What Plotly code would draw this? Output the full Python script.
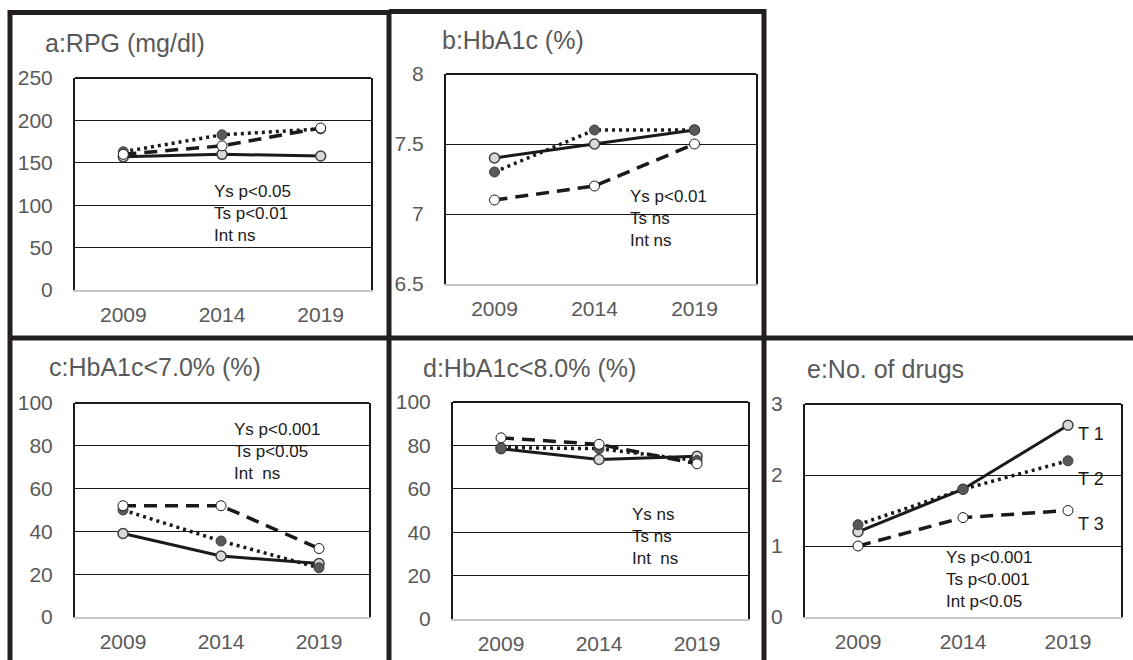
import plotly.graph_objects as go

W, H = 1133, 660

years = ["2009", "2014", "2019"]

# panel a: RPG (mg/dl)
rpg_t1 = [157, 160, 158]
rpg_t2 = [163, 183, 190]
rpg_t3 = [160, 170, 191]
# panel b: HbA1c (%)
hba_t1 = [7.4, 7.5, 7.6]
hba_t2 = [7.3, 7.6, 7.6]
hba_t3 = [7.1, 7.2, 7.5]
# panel c: HbA1c<7.0% (%)
lt7_t1 = [39, 28.5, 25]
lt7_t2 = [50, 35.5, 23]
lt7_t3 = [52, 52, 32]
# panel d: HbA1c<8.0% (%)
lt8_t1 = [78.5, 73.5, 75]
lt8_t2 = [79, 78.5, 73]
lt8_t3 = [83.5, 80.5, 71.5]
# panel e: No. of drugs
drg_t1 = [1.2, 1.8, 2.7]
drg_t2 = [1.3, 1.8, 2.2]
drg_t3 = [1.0, 1.4, 1.5]

titles = ["a:RPG (mg/dl)", "b:HbA1c (%)", "c:HbA1c&lt;7.0% (%)", "d:HbA1c&lt;8.0% (%)", "e:No. of drugs"]
stats = [
    "Ys p&lt;0.05<br>Ts p&lt;0.01<br>Int ns",
    "Ys p&lt;0.01<br>Ts ns<br>Int ns",
    "Ys p&lt;0.001<br>Ts p&lt;0.05<br>Int&nbsp; ns",
    "Ys ns<br>Ts ns<br>Int&nbsp; ns",
    "Ys p&lt;0.001<br>Ts p&lt;0.001<br>Int p&lt;0.05",
]
series_labels = ["T 1", "T 2", "T 3"]
yranges = [[0, 250], [6.5, 8], [0, 100], [0, 100], [0, 3]]
ydticks = [50, 0.5, 20, 20, 1]
data = [
    (rpg_t1, rpg_t2, rpg_t3),
    (hba_t1, hba_t2, hba_t3),
    (lt7_t1, lt7_t2, lt7_t3),
    (lt8_t1, lt8_t2, lt8_t3),
    (drg_t1, drg_t2, drg_t3),
]

# layout geometry in pixels
plot_px = [(75, 371, 78, 290), (446, 756, 74, 284), (75, 369, 403, 617),
           (453, 748, 402, 619), (805, 1121, 404, 617)]
xranges = [[-0.49, 2.51], [-0.485, 2.615], [-0.49, 2.51], [-0.49, 2.52], [-0.505, 2.505]]
title_px = [(43, 43), (440, 40), (47, 367), (421, 368), (805, 369)]
stats_px = [(212, 213), (628, 218), (232, 451), (630, 536), (944, 579)]


def fx(p):
    return p / W


def fy(p):
    return 1 - p / H


FONT = "Liberation Sans, Arial, sans-serif"
GRAYTXT = "#595959"

fig = go.Figure()
styles = [
    dict(line=dict(color="#1a1a1a", width=3, dash="solid"),
         marker=dict(size=10, color="#d9d9d9", line=dict(color="#404040", width=1.5))),
    dict(line=dict(color="#1a1a1a", width=3.5, dash="3px,4px"),
         marker=dict(size=10, color="#595959", line=dict(color="#404040", width=1))),
    dict(line=dict(color="#1a1a1a", width=3.5, dash="13px,8px"),
         marker=dict(size=10, color="#ffffff", line=dict(color="#1a1a1a", width=1))),
]

layout = dict(width=W, height=H, margin=dict(l=0, r=0, t=0, b=0, autoexpand=False),
              paper_bgcolor="white", plot_bgcolor="white", showlegend=False,
              font=dict(family=FONT))
annotations = []
shapes = []

for i in range(5):
    n = "" if i == 0 else str(i + 1)
    xa, ya = "x" + n, "y" + n
    l, r, t, b = plot_px[i]
    for k in [0, 1, 2]:
        fig.add_trace(go.Scatter(x=years, y=data[i][k], mode="lines+markers",
                                 xaxis=xa, yaxis=ya, name=series_labels[k],
                                 **styles[k]))
    layout["xaxis" + n] = dict(domain=[fx(l), fx(r)], anchor=ya, type="category",
                               range=xranges[i], showgrid=False, zeroline=False,
                               automargin=False,
                               showline=True, linecolor="#c8c8c8", linewidth=2,
                               ticks="", ticklabelstandoff=5,
                               tickfont=dict(size=21, color=GRAYTXT, family=FONT))
    layout["yaxis" + n] = dict(domain=[fy(b), fy(t)], anchor=xa, range=yranges[i],
                               dtick=ydticks[i], tick0=yranges[i][0],
                               automargin=False,
                               showgrid=True, gridcolor="#1a1a1a", gridwidth=1,
                               zeroline=False, showline=True, linecolor="#1a1a1a",
                               linewidth=2, mirror=True, ticks="",
                               ticklabelstandoff=16,
                               tickfont=dict(size=21, color=GRAYTXT, family=FONT))
    shapes.append(dict(type="line", xref=xa + " domain", yref=ya + " domain",
                       x0=0, x1=1, y0=1, y1=1, line=dict(color="#1a1a1a", width=2)))
    annotations.append(dict(text=titles[i], xref="paper", yref="paper",
                            x=fx(title_px[i][0]), y=fy(title_px[i][1]),
                            xanchor="left", yanchor="middle", showarrow=False,
                            font=dict(size=25, color=GRAYTXT, family=FONT)))
    annotations.append(dict(text=stats[i], xref="paper", yref="paper",
                            x=fx(stats_px[i][0]), y=fy(stats_px[i][1]),
                            xanchor="left", yanchor="middle", align="left",
                            showarrow=False,
                            font=dict(size=17, color="#1a1a1a", family=FONT)))

for k, yy in enumerate([434, 479, 524]):
    annotations.append(dict(text=series_labels[k], xref="paper", yref="paper",
                            x=fx(1076), y=fy(yy), xanchor="left", yanchor="middle",
                            showarrow=False,
                            font=dict(size=18, color="#1a1a1a", family=FONT)))

FR = dict(color="#231f20", width=5)
frame_lines = [
    (10, 12.5, 389, 12.5), (389, 11.5, 764, 11.5),
    (10, 10, 10, 660), (389, 10, 389, 660), (764, 9, 764, 660),
    (8, 338, 1133, 338),
]
for x0, y0, x1, y1 in frame_lines:
    shapes.append(dict(type="line", xref="paper", yref="paper",
                       x0=fx(x0), y0=fy(y0), x1=fx(x1), y1=fy(y1), line=FR))

layout["annotations"] = annotations
layout["shapes"] = shapes
fig.update_layout(**layout)
fig.write_html("out.html", config={"displayModeBar": False},
               post_script="document.body.style.margin='0px';")
